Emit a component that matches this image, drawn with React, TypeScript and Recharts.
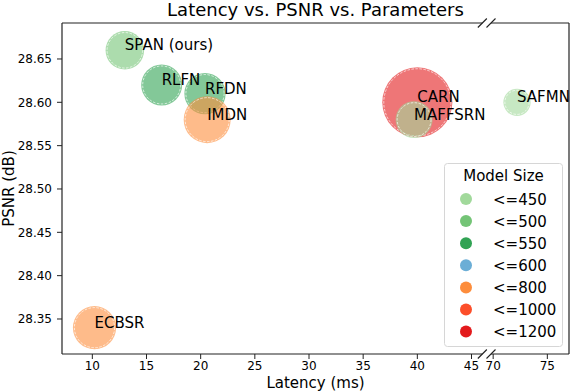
import { ScatterChart, Scatter, XAxis, YAxis, ZAxis, ReferenceLine, Legend, Customized } from "recharts"

// Model data (latency in ms, PSNR in dB, parameters in K)
const models = ["SPAN (ours)", "RLFN", "RFDN", "IMDN", "ECBSR", "CARN", "MAFFSRN", "SAFMN"]
const latency = [13.0, 16.4, 20.4, 20.6, 10.2, 40.0, 39.7, 72.2]
const psnr = [28.66, 28.62, 28.61, 28.58, 28.34, 28.6, 28.58, 28.6]
const params = [480, 543, 550, 715, 603, 1592, 441, 240]

// Legend bins
const sizeLimits = [450, 500, 550, 600, 800, 1000, 1200]
const sizeColors = ["#a1d99b", "#74c476", "#31a354", "#6baed6", "#fd8d3c", "#fc4e2a", "#e31a1c"]

const xTicks = [10, 15, 20, 25, 30, 35, 40, 45, 70, 75]
const yTicks = [28.35, 28.4, 28.45, 28.5, 28.55, 28.6, 28.65]

// broken x axis: 7.2..46 on the left, 69.8..77 on the right (shifted by 23)
const BREAK = 46
const SHIFT = 23
const X_MIN = 7.2
const X_MAX = 77 - SHIFT
const RIGHT_START = 69.8 - SHIFT
const Y_MIN = 28.3096
const Y_MAX = 28.6915

const toAxis = (v: number) => (v > BREAK ? v - SHIFT : v)
const fromAxis = (v: number) => (v > BREAK ? v + SHIFT : v)

const colorFor = (p: number) => {
  const i = sizeLimits.findIndex((l) => p <= l)
  return sizeColors[i === -1 ? sizeColors.length - 1 : i]
}

const data = models.map((name, i) => ({
  name,
  x: toAxis(latency[i]),
  y: psnr[i],
  z: params[i],
  fill: colorFor(params[i]),
}))

const AXIS = "#222"
const FONT = '"DejaVu Sans", sans-serif'

const Bubble = (props: any) => {
  const { cx, cy, payload } = props
  const r = props.width ? props.width / 2 : Math.sqrt(props.size / Math.PI)
  return (
    <g>
      <circle cx={cx} cy={cy} r={r} fill={payload.fill} fillOpacity={0.6} />
      <circle
        cx={cx}
        cy={cy}
        r={r - 1.5}
        fill="none"
        stroke="#fff"
        strokeOpacity={0.85}
        strokeWidth={0.8}
        strokeDasharray="2.5 1.5"
      />
    </g>
  )
}

const PointLabel = (props: any) => (
  <text x={props.cx} y={props.cy} fontSize={15} fill="#000" fontFamily={FONT}>
    {props.payload.name}
  </text>
)

// spine segment with a "/" break mark at one end
const spine = (mark: "start" | "end" | "none") => (p: any) => {
  const mx = mark === "start" ? p.x1 : p.x2
  const my = mark === "start" ? p.y1 : p.y2
  return (
    <g>
      <line x1={p.x1} y1={p.y1} x2={p.x2} y2={p.y2} stroke={AXIS} strokeWidth={1.2} />
      {mark !== "none" && (
        <line x1={mx - 4.5} y1={my + 4.5} x2={mx + 4.5} y2={my - 4.5} stroke={AXIS} strokeWidth={1.1} />
      )}
    </g>
  )
}

const Texts = () => (
  <g fontFamily={FONT} fill="#000">
    <text x={315.5} y={16} textAnchor="middle" fontSize={18}>
      Latency vs. PSNR vs. Parameters
    </text>
    <text x={315.5} y={388} textAnchor="middle" fontSize={15}>
      Latency (ms)
    </text>
    <text x={14} y={188.5} textAnchor="middle" fontSize={15} transform="rotate(-90, 14, 188.5)">
      PSNR (dB)
    </text>
  </g>
)

const SizeLegend = () => (
  <svg width={119} height={184} style={{ display: "block", fontFamily: FONT }}>
    <rect x={0.5} y={0.5} width={118} height={183} rx={3} fill="#fff" fillOpacity={0.8} stroke="#d6d6d6" />
    <text x={59.5} y={18} textAnchor="middle" fontSize={15} fill="#000">
      Model Size
    </text>
    {sizeLimits.map((l, i) => (
      <g key={l}>
        <circle cx={22} cy={36 + i * 22.1} r={6} fill={sizeColors[i]} />
        <text x={49} y={41.5 + i * 22.1} fontSize={15} fill="#000">
          {"<=" + l}
        </text>
      </g>
    ))}
  </svg>
)

export default function App() {
  return (
    <div>
      <style>{"body{margin:0}"}</style>
      <ScatterChart
        width={572}
        height={392}
        margin={{ top: 23, right: 3, bottom: 0, left: 0 }}
        style={{ fontFamily: FONT }}
      >
        <XAxis
          type="number"
          dataKey="x"
          domain={[X_MIN, X_MAX]}
          ticks={xTicks.map(toAxis)}
          tickFormatter={(v) => String(fromAxis(v))}
          interval={0}
          height={38}
          axisLine={false}
          tickLine={{ stroke: AXIS, strokeWidth: 1 }}
          tickSize={5}
          tick={{ fill: "#000", fontSize: 12 }}
          allowDataOverflow
        />
        <YAxis
          type="number"
          dataKey="y"
          domain={[Y_MIN, Y_MAX]}
          ticks={yTicks}
          tickFormatter={(v) => v.toFixed(2)}
          width={62}
          axisLine={{ stroke: AXIS, strokeWidth: 1.2 }}
          tickLine={{ stroke: AXIS, strokeWidth: 1 }}
          tickSize={5}
          tickMargin={5}
          tick={{ fill: "#000", fontSize: 12 }}
          allowDataOverflow
        />
        <ZAxis type="number" dataKey="z" domain={[0, 1600]} range={[0, 3882]} />
        <ReferenceLine ifOverflow="visible" segment={[{ x: X_MIN, y: Y_MIN }, { x: BREAK, y: Y_MIN }]} shape={spine("end")} />
        <ReferenceLine ifOverflow="visible" segment={[{ x: RIGHT_START, y: Y_MIN }, { x: X_MAX, y: Y_MIN }]} shape={spine("start")} />
        <ReferenceLine ifOverflow="visible" segment={[{ x: X_MIN, y: Y_MAX }, { x: BREAK, y: Y_MAX }]} shape={spine("end")} />
        <ReferenceLine ifOverflow="visible" segment={[{ x: RIGHT_START, y: Y_MAX }, { x: X_MAX, y: Y_MAX }]} shape={spine("start")} />
        <ReferenceLine ifOverflow="visible" segment={[{ x: X_MAX, y: Y_MIN }, { x: X_MAX, y: Y_MAX }]} shape={spine("none")} />
        <Scatter data={data} shape={Bubble} legendType="none" isAnimationActive={false} />
        <Scatter data={data} shape={PointLabel} legendType="none" isAnimationActive={false} />
        <Customized component={Texts} />
        <Legend
          layout="vertical"
          align="center"
          verticalAlign="middle"
          wrapperStyle={{ left: 444, top: 163, width: 119, height: 184 }}
          content={() => <SizeLegend />}
        />
      </ScatterChart>
    </div>
  )
}
